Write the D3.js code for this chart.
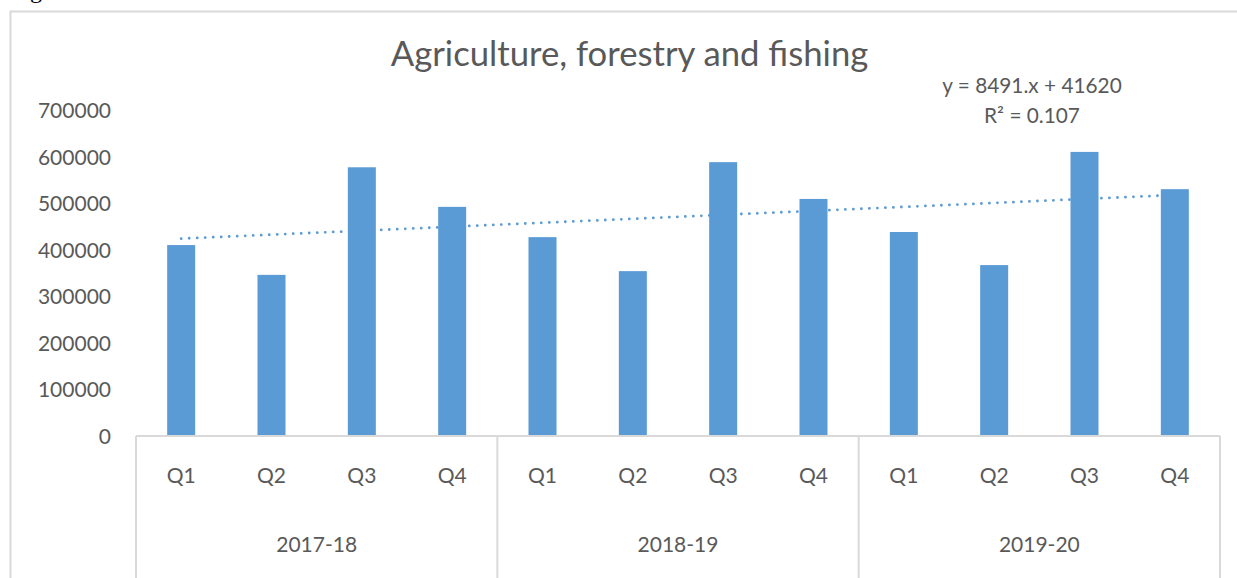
<!DOCTYPE html>
<html>
<head>
<meta charset="utf-8">
<script src="https://cdn.jsdelivr.net/npm/d3@7"></script>
<style>
  html, body { margin: 0; padding: 0; background: #fff; }
  svg { display: block; }
  text { font-family: Lato, "Noto Sans", sans-serif; fill: #595959; }
</style>
</head>
<body>
<svg id="chart" width="1237" height="578"></svg>
<script>
// Quarterly output, agriculture, forestry and fishing
const years = ["2017-18", "2018-19", "2019-20"];
const quarters = ["Q1", "Q2", "Q3", "Q4"];
const values = [410000, 346000, 577000, 492000,
                427000, 354000, 588000, 509000,
                438000, 367000, 610000, 530000];
const yTicks = [0, 100000, 200000, 300000, 400000, 500000, 600000, 700000];
const trendLabel = ["y = 8491.x + 41620", "R\u00B2 = 0.107"];
const title = "Agriculture, forestry and fishing";

const W = 1237, H = 578;
const plot = { left: 136, right: 1220, top: 110, bottom: 436 };
const barColor = "#5b9bd5";
const lineColor = "#d9d9d9";

const svg = d3.select("#chart");

// caption line above the chart box (only its descender shows)
svg.append("text")
  .attr("x", 10).attr("y", -2)
  .style("font-family", "'Liberation Serif', serif")
  .style("font-size", "24px")
  .style("fill", "#000")
  .text("Figure");

// chart frame
svg.append("rect")
  .attr("x", 10.5).attr("y", 11.5)
  .attr("width", W + 20).attr("height", H + 20)
  .attr("fill", "#fff")
  .attr("stroke", lineColor).attr("stroke-width", 2);

const idx = d3.range(values.length);
const x = d3.scaleBand()
  .domain(idx)
  .range([plot.left, plot.right])
  .paddingInner(0.69)
  .paddingOuter(0.345);
const step = x.step();

const y = d3.scaleLinear()
  .domain([0, 700000])
  .range([plot.bottom, plot.top]);

// title
svg.append("text")
  .attr("x", 629.5).attr("y", 66)
  .attr("text-anchor", "middle")
  .style("font-size", "34.7px")
  .text(title);

// value axis labels
const yAxis = d3.axisLeft(y).tickValues(yTicks).tickSize(0).tickPadding(25)
  .tickFormat(d3.format("d"));
const yg = svg.append("g")
  .attr("transform", `translate(${plot.left},0)`)
  .call(yAxis);
yg.select(".domain").remove();
yg.selectAll("text")
  .style("font-family", "Lato, 'Noto Sans', sans-serif")
  .style("font-size", "21px")
  .attr("fill", "#595959")
  .attr("dy", "0.36em");

// linear trend (least squares over period number 1..n)
const n = values.length;
const xs = idx.map(i => i + 1);
const mx = d3.mean(xs), my = d3.mean(values);
const slope = d3.sum(xs, (v, i) => (v - mx) * (values[i] - my)) / d3.sum(xs, v => (v - mx) ** 2);
const intercept = my - slope * mx;
const cx = i => x(i) + x.bandwidth() / 2;

svg.append("line")
  .attr("x1", cx(0)).attr("y1", y(intercept + slope * 1))
  .attr("x2", cx(n - 1)).attr("y2", y(intercept + slope * n))
  .attr("stroke", barColor)
  .attr("stroke-width", 2.8)
  .attr("stroke-linecap", "round")
  .attr("stroke-dasharray", "0.01 8");

// bars
svg.append("g").selectAll("rect")
  .data(values)
  .join("rect")
  .attr("x", (d, i) => x(i))
  .attr("y", d => y(d))
  .attr("width", x.bandwidth())
  .attr("height", d => y(0) - y(d))
  .attr("fill", barColor);

// category axis: baseline and group separators
const axisG = svg.append("g").attr("stroke", lineColor).attr("stroke-width", 2);
axisG.append("line")
  .attr("x1", plot.left).attr("x2", plot.right)
  .attr("y1", plot.bottom).attr("y2", plot.bottom);
d3.range(years.length + 1).forEach(g => {
  const gx = plot.left + step * quarters.length * g;
  axisG.append("line")
    .attr("x1", gx).attr("x2", gx)
    .attr("y1", plot.bottom).attr("y2", H);
});

// quarter labels
svg.append("g").selectAll("text")
  .data(idx)
  .join("text")
  .attr("x", i => cx(i))
  .attr("y", 483)
  .attr("text-anchor", "middle")
  .style("font-size", "21px")
  .text(i => quarters[i % quarters.length]);

// year labels
svg.append("g").selectAll("text")
  .data(years)
  .join("text")
  .attr("x", (d, g) => plot.left + step * quarters.length * (g + 0.5))
  .attr("y", 552)
  .attr("text-anchor", "middle")
  .style("font-size", "21px")
  .text(d => d);

// trend equation
svg.append("g").selectAll("text")
  .data(trendLabel)
  .join("text")
  .attr("x", 1032)
  .attr("y", (d, i) => 93 + i * 30)
  .attr("text-anchor", "middle")
  .style("font-size", "20.8px")
  .text(d => d);
</script>
</body>
</html>
